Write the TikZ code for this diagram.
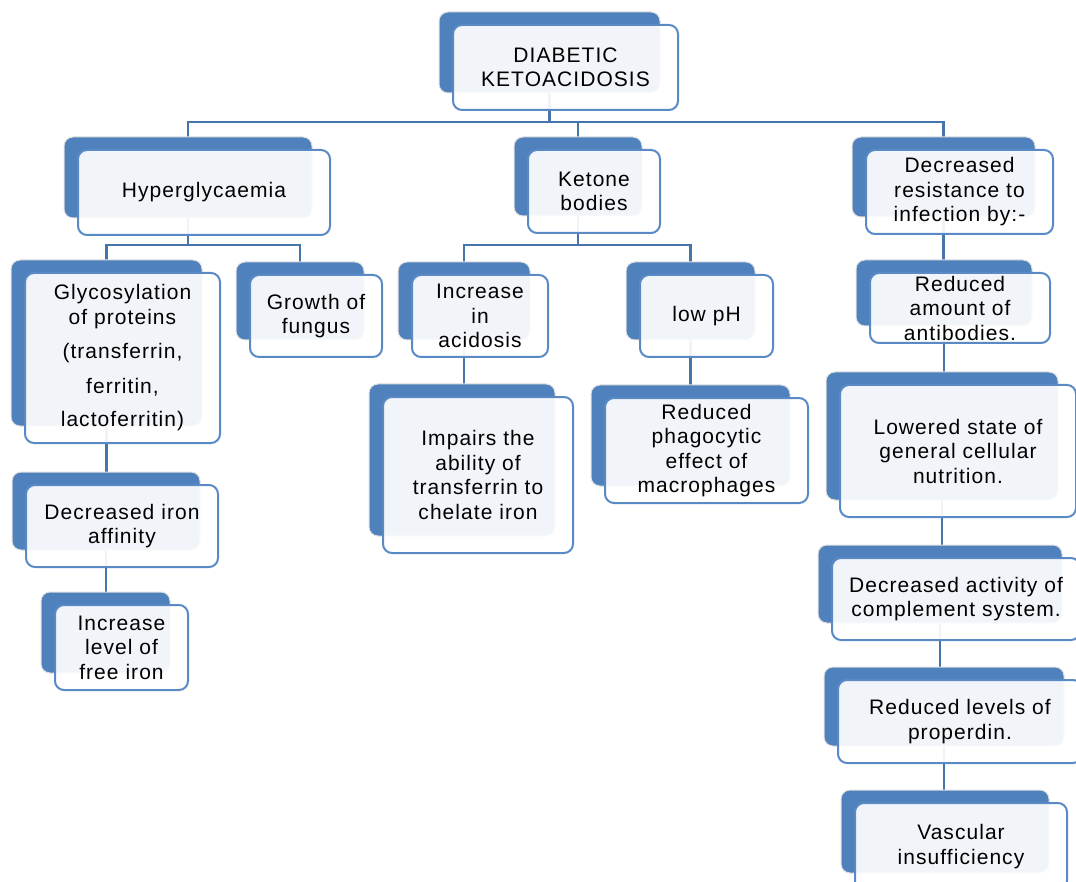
\documentclass[tikz,border=0pt]{standalone}
\usepackage{fontspec}
\setmainfont{Liberation Sans}[LetterSpace=5]
\usetikzlibrary{calc}
\definecolor{backblue}{HTML}{4F81BD}
\definecolor{edgeblue}{HTML}{5A8AC6}
\definecolor{lineblue}{HTML}{4675AC}
\pgfdeclarelayer{bg}\pgfdeclarelayer{mid}\pgfsetlayers{bg,mid,main}
\tikzset{
 backbox/.style={fill=backblue, draw=black!12, line width=1pt, rounded corners=9pt, inner sep=0pt, outer sep=0pt},
 frontbox/.style={fill=white, fill opacity=0.92, text opacity=1, draw=edgeblue, line width=2pt, rounded corners=9pt, inner sep=0pt, outer sep=0pt, align=center, font=\fontsize{21}{24.5}\selectfont},
 conn/.style={draw=lineblue, line width=2.2pt},
}
\newcommand\mybox[6]{%
 \begin{pgfonlayer}{mid}
 \node[backbox, minimum width={#4-#2-4}, minimum height={#5-#3-4}] (#1B) at ({(#2+#4)/2-16},{(#3+#5)/2-15}) {};
 \end{pgfonlayer}
 \node[frontbox, minimum width={#4-#2}, minimum height={#5-#3}] (#1) at ({(#2+#4)/2},{(#3+#5)/2}) {#6};
}
\begin{document}
\begin{tikzpicture}[x=1pt,y=-1pt]
\useasboundingbox (0,0) rectangle (1076,882);
\mybox{dka}{453}{25}{678}{110}{DIABETIC\\KETOACIDOSIS}
\mybox{hyper}{78}{150}{330}{235}{Hyperglycaemia}
\mybox{ket}{528}{150}{660}{233}{Ketone\\bodies}
\mybox{res}{866}{150}{1053}{234}{Decreased\\resistance to\\infection by:-}
\mybox{gly}{25}{273}{220}{443}{Glycosylation\\of proteins\\[10pt](transferrin,\\[10pt]ferritin,\\[9pt]lactoferritin)}
\mybox{fungus}{250}{275}{382}{357}{Growth of\\fungus}
\mybox{iron}{26}{485}{218}{567}{Decreased iron\\affinity}
\mybox{free}{55}{605}{188}{690}{Increase\\level of\\free iron}
\mybox{acid}{412}{275}{548}{357}{Increase\\in\\acidosis}
\mybox{ph}{640}{275}{773}{357}{low pH}
\mybox{impairs}{383}{397}{573}{553}{Impairs the\\ability of\\transferrin to\\chelate iron}
\mybox{phago}{605}{398}{808}{503}{Reduced\\phagocytic\\effect of\\macrophages}
\mybox{antib}{870}{273}{1050}{343}{Reduced\\amount of\\antibodies.}
\mybox{lowered}{840}{385}{1076}{517}{Lowered state of\\general cellular\\nutrition.}
\mybox{compl}{832}{558}{1080}{640}{Decreased activity of\\complement system.}
\mybox{prop}{838}{680}{1082}{763}{Reduced levels of\\properdin.}
\mybox{vasc}{855}{803}{1067}{890}{Vascular\\insufficiency}
\begin{pgfonlayer}{bg}
\path (dkaB.south) ++(0,29) coordinate (j1);
\draw[conn] (dkaB.south) -- (j1);
\draw[conn] (j1) -| (hyperB.north);
\draw[conn] (j1) -| (ketB.north);
\draw[conn] (j1) -| (resB.north);
\path (hyperB.south) ++(0,27) coordinate (j2);
\draw[conn] (hyperB.south) -- (j2);
\draw[conn] (j2) -| (glyB.north);
\draw[conn] (j2) -| (fungusB.north);
\path (ketB.south) ++(0,29) coordinate (j3);
\draw[conn] (ketB.south) -- (j3);
\draw[conn] (j3) -| (acidB.north);
\draw[conn] (j3) -| (phB.north);
\draw[conn] (glyB.south) -- (glyB.south |- ironB.north);
\draw[conn] (ironB.south) -- (ironB.south |- freeB.north);
\draw[conn] (acidB.south) -- (acidB.south |- impairsB.north);
\draw[conn] (phB.south) -- (phB.south |- phagoB.north);
\draw[conn] (resB.south) -- (resB.south |- antibB.north);
\draw[conn] (antibB.south) -- (antibB.south |- loweredB.north);
\draw[conn] (loweredB.south) -- (loweredB.south |- complB.north);
\draw[conn] (complB.south) -- (complB.south |- propB.north);
\draw[conn] (propB.south) -- (propB.south |- vascB.north);
\end{pgfonlayer}
\end{tikzpicture}
\end{document}
